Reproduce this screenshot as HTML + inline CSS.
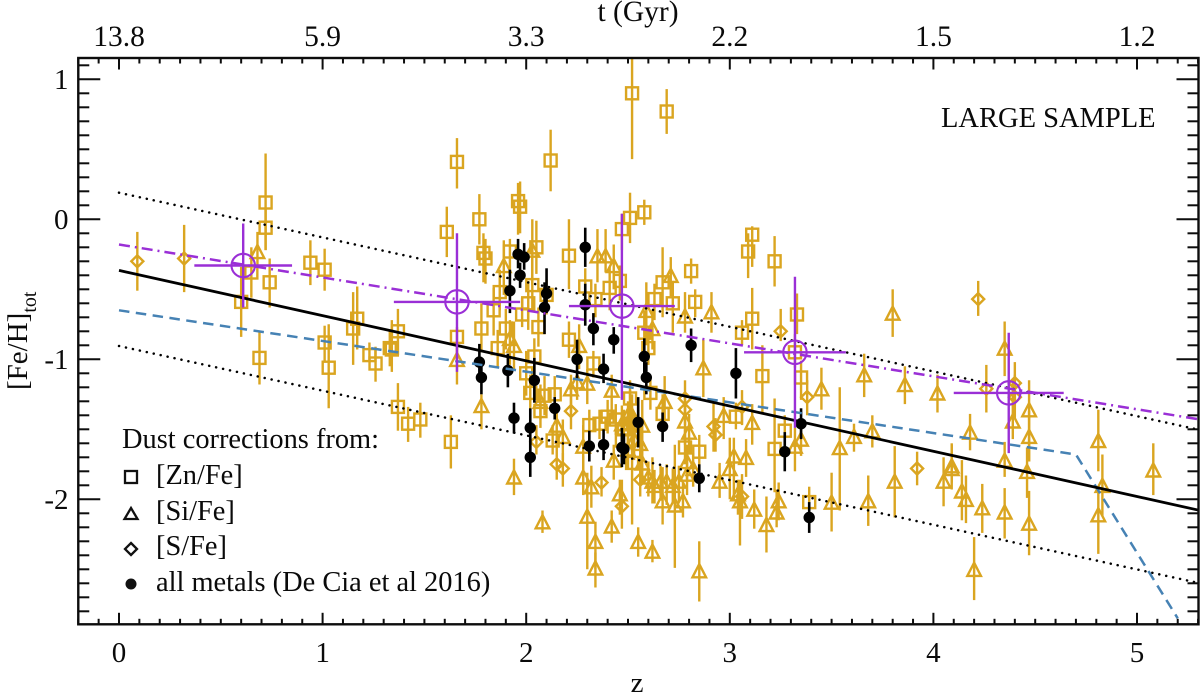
<!DOCTYPE html>
<html lang="en">
<head>
<meta charset="utf-8">
<title>[Fe/H] total versus redshift</title>
<style>
html,body{margin:0;padding:0;background:#fff;width:1200px;height:695px;overflow:hidden}
svg{display:block}
text{font-family:"Liberation Serif","Times New Roman",serif;fill:#0a0a0a}
</style>
</head>
<body>
<svg id="chart" xmlns="http://www.w3.org/2000/svg" width="1200" height="695" viewBox="0 0 1200 695">
  <defs><clipPath id="plot-clip"><rect x="78" y="58" width="1121" height="566"/></clipPath></defs>
  <g id="gold-layer" clip-path="url(#plot-clip)"></g>
  <g id="black-layer" clip-path="url(#plot-clip)"></g>
  <g id="line-layer" clip-path="url(#plot-clip)"></g>
  <g id="mean-layer" clip-path="url(#plot-clip)"></g>
  <g id="axis-layer"></g>

  <text x="638" y="21" font-size="29.5" text-anchor="middle">t (Gyr)</text>
  <text x="637" y="692" font-size="29" text-anchor="middle">z</text>
  <text transform="translate(27,390) rotate(-90)" font-size="29">[Fe/H]<tspan font-size="20" dy="9">tot</tspan></text>
  <text x="941" y="127" font-size="28.5">LARGE SAMPLE</text>

  <g>
    <text x="122" y="448" font-size="28.4">Dust corrections from:</text>
    <rect x="125" y="471" width="12" height="12" fill="none" stroke="#111" stroke-width="2.3"/>
    <text x="156" y="484" font-size="28.4">[Zn/Fe]</text>
    <polygon points="131,508 137.5,519 124.5,519" fill="none" stroke="#111" stroke-width="2.3"/>
    <text x="156" y="520" font-size="28.4">[Si/Fe]</text>
    <polygon points="131,543 137,549 131,555 125,549" fill="none" stroke="#111" stroke-width="2.3"/>
    <text x="156" y="555" font-size="28.4">[S/Fe]</text>
    <circle cx="131" cy="584" r="5.5" fill="#111"/>
    <text x="156" y="591" font-size="28.4">all metals (De Cia et al 2016)</text>
  </g>
</svg>
<script>
// Each point row: [z, [Fe/H], error up, error down]
const zincPoints = [
[.72,.12,.35,.34],[.72,-.06,.13,.16],[.60,-.59,.25,.25],[.65,-.38,.18,.18],[.74,-.45,.17,.18],[.94,-.31,.16,.16],[1.01,-.36,.15,.15],[1.17,-.71,.23,.22],
[1.15,-.78,.26,.26],[1.37,-.80,.16,.17],[1.01,-.88,.12,.13],[1.33,-.92,.13,.13],[1.23,-.97,.09,.05],[1.26,-1.03,.12,.13],[1.34,-.93,.21,.16],[1.66,.41,.17,.19],
[1.61,-.09,.18,.18],[1.66,-.84,.07,.18],[.69,-.99,.19,.19],[1.03,-1.06,.31,.29],[1.37,-1.34,.17,.17],[1.42,-1.46,.12,.13],[1.48,-1.43,.12,.13],[1.63,-1.59,.19,.19],
[2.12,.42,.22,.22],[2.52,.90,.30,.47],[2.69,.77,.16,.16],[1.77,0,.18,.18],[1.96,.13,.13,.24],[1.97,.09,.18,.19],[1.79,-.24,.14,.21],[1.80,-.28,.14,.18],
[1.92,-.23,.09,.13],[2.05,-.20,.19,.19],[2.21,-.26,.26,.24],[2.47,-.07,.11,.15],[2.51,.01,.18,.18],[2.58,.05,.09,.09],[2.81,-.37,.09,.09],[2.83,-.59,.09,.11],
[2.67,-.45,.25,.25],[2.63,-.57,.11,.15],[2.72,-.60,.16,.21],[2.46,-.44,.11,.14],[2.41,-.49,.15,.16],[2.29,-.48,.13,.14],[2.34,-.57,.11,.13],[1.87,-.52,.16,.13],
[2.03,-.47,.21,.18],[2.10,-.54,.11,.14],[2.01,-.60,.16,.19],[1.84,-.65,.16,.18],[1.98,-.68,.12,.09],[2.06,-.77,.14,.14],[1.78,-.78,.18,.17],[1.86,-.92,.13,.14],
[1.90,-.78,.14,.15],[2.04,-.98,.13,.11],[2.21,-.86,.13,.13],[2.58,-.81,.16,.16],[2.60,-.92,.13,.12],[2.33,-1.03,.09,.10],[2.00,-1.10,.16,.16],[2.02,-1.24,.13,.12],
[2.09,-1.26,.14,.14],[2.14,-1.25,.13,.12],[2.07,-1.37,.11,.12],[2.13,-1.58,.11,.10],[2.31,-1.47,.11,.11],[2.36,-1.46,.10,.11],[2.40,-1.41,.12,.12],[2.44,-1.43,.11,.11],
[2.48,-1.50,.14,.18],[2.51,-1.28,.13,.16],[2.47,-1.58,.11,.14],[2.52,-1.74,.16,.44],[2.67,-1.39,.14,.11],[2.78,-1.63,.13,.12],[2.85,-1.66,.12,.13],[2.61,-1.24,.11,.12],
[3.11,-.11,.06,.23],[3.09,-.23,.13,.19],[3.22,-.30,.18,.18],[3.11,-.71,.22,.22],[3.06,-.81,.09,.09],[3.33,-.68,.15,.14],[3.16,-1.12,.22,.26],[3.35,-1.13,.12,.16],
[3.03,-1.41,.10,.09],[3.27,-1.51,.11,.14],[3.22,-1.64,.36,.31],[3.39,-2.02,.11,.08],[3.32,-.95,.13,.11]
];
const siliconPoints = [
[.68,-.24,.15,.10],[1.89,-.34,.19,.20],[2.03,-.23,.23,.24],[2.35,-.27,.20,.18],[2.39,-.27,.20,.11],[2.43,-.34,.16,.16],[2.71,-.41,.14,.14],[2.78,-.70,.18,.11],
[2.91,-.67,.15,.14],[2.59,-.66,.21,.24],[2.62,-.79,.14,.14],[1.66,-1.01,.11,.17],[1.94,-.91,.18,.17],[1.92,-.86,.14,.18],[2.26,-.91,.16,.16],[1.78,-1.34,.09,.16],
[1.94,-1.85,.14,.12],[2.08,-2.17,.09,.07],[2.07,-1.31,.13,.12],[2.15,-1.48,.12,.13],[2.18,-1.56,.13,.16],[2.22,-1.22,.11,.16],[2.25,-1.17,.13,.12],[2.30,-1.18,.11,.14],
[2.28,-1.63,.16,.16],[2.28,-1.85,.16,.12],[2.32,-1.92,.16,.14],[2.30,-2.13,.32,.37],[2.34,-2.31,.15,.19],[2.34,-2.50,.12,.13],[2.42,-2.20,.12,.11],[2.43,-1.73,.12,.13],
[2.46,-1.97,.11,.14],[2.55,-2.31,.11,.10],[2.62,-2.38,.09,.07],[2.42,-1.23,.12,.20],[2.85,-2.52,.22,.21],[2.73,-2.05,.44,.44],[2.77,-2.02,.14,.11],[2.67,-2.02,.25,.16],
[2.62,-1.88,.18,.15],[2.66,-1.88,.12,.13],[2.69,-1.88,.13,.16],[2.57,-1.75,.11,.14],[2.79,-1.83,.14,.14],[2.79,-1.74,.13,.12],[2.80,-1.53,.14,.15],[2.78,-1.45,.13,.16],
[2.87,-1.07,.21,.20],[2.68,-1.31,.19,.12],[2.57,-1.48,.19,.17],[2.50,-1.46,.16,.12],[2.47,-1.47,.14,.14],[2.51,-1.38,.16,.12],[2.52,-1.43,.18,.18],[2.95,-1.88,.14,.11],
[3.11,-1.46,.14,.15],[3.02,-1.70,.14,.31],[3.00,-1.79,.23,.21],[3.08,-1.71,.14,.13],[3.04,-1.97,.11,.14],[3.05,-2.02,.16,.31],[3.12,-2.08,.15,.13],[3.18,-2.19,.21,.19],
[3.24,-2.02,.14,.13],[3.23,-2.10,.17,.10],[3.32,-1.63,.14,.17],[3.35,-1.58,.14,.11],[3.50,-2.03,.22,.20],[3.54,-1.64,.44,.44],[3.61,-1.56,.10,.10],[3.70,-1.52,.12,.11],
[3.68,-2.02,.19,.17],[3.81,-1.88,.26,.25],[4.05,-1.88,.18,.17],[2.97,-1.41,.14,.16],[3.45,-1.22,.16,.14],[3.66,-1.12,.16,.15],[3.80,-.68,.18,.16],[3.86,-1.19,.14,.13],
[4.02,-1.25,.14,.13],[4.35,-.93,.20,.19],[4.18,-1.53,.14,.12],[4.39,-1.45,.31,.12],[4.47,-1.37,.22,.36],[4.47,-1.56,.19,.17],[4.35,-1.73,.14,.11],[4.46,-1.81,.18,.18],
[4.09,-1.77,.17,.11],[4.09,-1.79,.18,.14],[4.14,-1.95,.23,.20],[4.16,-2.01,.18,.16],[4.24,-2.07,.18,.17],[4.35,-2.10,.18,.18],[4.47,-2.18,.24,.22],[4.20,-2.51,.24,.21],
[4.81,-1.59,.23,.21],[4.83,-1.91,.23,.21],[4.81,-2.12,.21,.27],[5.08,-1.80,.20,.17],
[2.60,-1.85,.12,.13],[2.63,-1.91,.12,.12],[2.72,-1.91,.13,.12],[2.75,-1.88,.12,.14],[2.82,-1.79,.12,.12],[2.53,-1.58,.13,.14],[2.50,-1.65,.12,.13],[2.56,-1.61,.14,.13]
];
const sulfurPoints = [
[.09,-.30,.21,.21],[.32,-.28,.24,.24],[4.22,-.57,.13,.12],[4.26,-1.21,.17,.17],[4.40,-1.17,.15,.16],[4.40,-1.27,.16,.16],[3.25,-.80,.16,.07],[3.38,-1.27,.12,.13],
[3.06,-1.34,.12,.13],[2.92,-1.48,.17,.18],[2.93,-1.54,.12,.12],[3.92,-1.78,.12,.12],[3.06,-1.98,.16,.16],[2.22,-1.37,.16,.13],[2.05,-1.59,.12,.09],[2.15,-1.75,.14,.11],
[2.18,-1.78,.11,.13],[2.37,-1.88,.11,.10],[2.47,-2.05,.19,.16],[2.56,-1.86,.14,.12],[2.78,-1.28,.13,.12],[2.78,-1.36,.11,.11]
];
const allMetalsPoints = [
[1.96,-.25,.11,.10],[1.99,-.27,.10,.09],[1.97,-.40,.09,.09],[1.92,-.51,.15,.16],[2.10,-.53,.18,.14],[2.09,-.63,.18,.19],[2.29,-.20,.14,.14],[2.29,-.61,.15,.15],
[2.33,-.78,.11,.12],[2.43,-.86,.09,.10],[2.81,-.90,.12,.12],[2.58,-.98,.13,.14],[1.77,-1.02,.13,.13],[1.78,-1.13,.11,.12],[1.91,-1.08,.12,.12],[2.04,-1.15,.16,.16],
[1.94,-1.42,.11,.11],[2.02,-1.49,.14,.18],[2.02,-1.70,.14,.14],[2.14,-1.35,.08,.08],[2.25,-1.00,.14,.14],[2.38,-1.07,.11,.10],[2.59,-1.13,.11,.12],[2.55,-1.45,.18,.18],
[2.67,-1.48,.10,.11],[2.31,-1.62,.11,.11],[2.38,-1.61,.11,.11],[2.47,-1.63,.14,.14],[2.48,-1.64,.11,.11],[2.85,-1.85,.10,.10],[3.03,-1.10,.18,.18],[3.35,-1.46,.11,.11],
[3.27,-1.66,.14,.14],[3.39,-2.13,.11,.11]
];
// Binned means: [z, [Fe/H], z error, error up, error down]
const binnedMeans = [[.61,-.33,.24,.30,.30],[1.66,-.59,.31,.49,.50],[2.47,-.62,.26,.66,.67],[3.32,-.95,.25,.54,.54],[4.37,-1.24,.27,.43,.43]];
// Trend lines
const bestFitZ = [0,5.31];
const bestFitFe = [-.365,-2.08];
const upperBoundZ = [0,5.31];
const upperBoundFe = [.19,-1.505];
const lowerBoundZ = [0,5.31];
const lowerBoundFe = [-.905,-2.6];
const meanFitZ = [0,5.31];
const meanFitFe = [-.18,-1.43];
const modelZ = [0,4.7,5.2];
const modelFe = [-.65,-1.68,-2.85];
// Axis labels
const bottomTicks = ['0','1','2','3','4','5'];
const topTicks = ['13.8','5.9','3.3','2.2','1.5','1.2'];
const leftTicks = ['1','0','-1','-2'];
const leftTickValues = [1,0,-1,-2];

const NS = 'http://www.w3.org/2000/svg';
const X = z => 119 + 203.6 * z;
const Y = v => 219.3 - 140 * v;
const GOLD = '#DAA520', INK = '#0d0d0d', PURPLE = '#9A2FD6', BLUE = '#4682B4';
const plotLeft = X(-0.2), plotRight = 1198.5, plotTop = 58, plotBottom = 624.3;

function make(tag, parent, attrs) {
  const el = document.createElementNS(NS, tag);
  for (const k in attrs) el.setAttribute(k, attrs[k]);
  parent.appendChild(el);
  return el;
}
const goldLayer = document.getElementById('gold-layer');
const blackLayer = document.getElementById('black-layer');
const lineLayer = document.getElementById('line-layer');
const meanLayer = document.getElementById('mean-layer');
const axisLayer = document.getElementById('axis-layer');

function errorBar(parent, p, color, width) {
  const el = make('line', parent, {x1: X(p[0]), x2: X(p[0]), y1: Y(p[1] + p[2]), y2: Y(p[1] - p[3]), stroke: color, 'stroke-width': width});
  
  
}

for (const p of zincPoints) {
  errorBar(goldLayer, p, GOLD, 2.4);
  const el = make('rect', goldLayer, {x: X(p[0]) - 6, y: Y(p[1]) - 6, width: 12, height: 12, fill: 'none', stroke: GOLD, 'stroke-width': 2.4});
  
  
}
for (const p of siliconPoints) {
  errorBar(goldLayer, p, GOLD, 2.4);
  const cx = X(p[0]), cy = Y(p[1]);
  const el = make('polygon', goldLayer, {points: `${cx},${cy - 8} ${cx + 6.8},${cy + 5.2} ${cx - 6.8},${cy + 5.2}`, fill: 'none', stroke: GOLD, 'stroke-width': 2.4});
  
  
}
for (const p of sulfurPoints) {
  errorBar(goldLayer, p, GOLD, 2.4);
  const cx = X(p[0]), cy = Y(p[1]);
  const el = make('polygon', goldLayer, {points: `${cx},${cy - 6} ${cx + 6},${cy} ${cx},${cy + 6} ${cx - 6},${cy}`, fill: 'none', stroke: GOLD, 'stroke-width': 2.4});
  
  
}
for (const p of allMetalsPoints) {
  errorBar(blackLayer, p, '#000', 2.6);
  const el = make('circle', blackLayer, {cx: X(p[0]), cy: Y(p[1]), r: 5.7, fill: '#000'});
  
  
}

function trend(zs, fes, color, width, dash, cap) {
  const el = make('polyline', lineLayer, {points: zs.map((z, i) => X(z) + ',' + Y(fes[i])).join(' '), fill: 'none', stroke: color, 'stroke-width': width});
  if (dash) el.setAttribute('stroke-dasharray', dash);
  if (cap) el.setAttribute('stroke-linecap', cap);
  return el;
}
const upperLine = trend(upperBoundZ, upperBoundFe, '#000', 2.5, '0.1 7', 'round');


const lowerLine = trend(lowerBoundZ, lowerBoundFe, '#000', 2.5, '0.1 7', 'round');


const modelLine = trend(modelZ, modelFe, BLUE, 2.5, '10.5 6.5');


const meanLine = trend(meanFitZ, meanFitFe, PURPLE, 2.5, '11 5 2 5');


const fitLine = trend(bestFitZ, bestFitFe, '#000', 2.8);



for (const m of binnedMeans) {
  const cx = X(m[0]), cy = Y(m[1]);
  const h = make('line', meanLayer, {x1: X(m[0] - m[2]), x2: X(m[0] + m[2]), y1: cy, y2: cy, stroke: PURPLE, 'stroke-width': 2.4});
  
  
  const v = make('line', meanLayer, {x1: cx, x2: cx, y1: Y(m[1] + m[3]), y2: Y(m[1] - m[4]), stroke: PURPLE, 'stroke-width': 2.4});
  
  
  const c = make('circle', meanLayer, {cx: cx, cy: cy, r: 11.7, fill: 'none', stroke: PURPLE, 'stroke-width': 2.1});
  
  
}

// Axes
const frame = make('rect', axisLayer, {x: plotLeft, y: plotTop, width: plotRight - plotLeft, height: plotBottom - plotTop, fill: 'none', stroke: INK, 'stroke-width': 2.4});



for (let i = -2; i <= 53; i++) {
  const z = i / 10, major = i % 10 === 0, x = X(z);
  const b = make('line', axisLayer, {x1: x, x2: x, y1: plotBottom, y2: plotBottom - (major ? 11.5 : 5.5), stroke: INK, 'stroke-width': 2});
  
  
  const t = make('line', axisLayer, {x1: x, x2: x, y1: plotTop, y2: plotTop + (major ? 11.5 : 5.5), stroke: INK, 'stroke-width': 2});
  
  
}
for (let i = -28; i <= 11; i++) {
  const v = i / 10, major = i % 10 === 0, y = Y(v), len = major ? 22 : 11;
  const l = make('line', axisLayer, {x1: plotLeft, x2: plotLeft + len, y1: y, y2: y, stroke: INK, 'stroke-width': 2});
  
  
  const r = make('line', axisLayer, {x1: plotRight, x2: plotRight - len, y1: y, y2: y, stroke: INK, 'stroke-width': 2});
  
  
}
bottomTicks.forEach((label, i) => {
  const el = make('text', axisLayer, {x: X(i), y: 662, 'font-size': 29, 'text-anchor': 'middle'});
  el.textContent = label;
  
  
});
topTicks.forEach((label, i) => {
  const el = make('text', axisLayer, {x: X(i), y: 46, 'font-size': 29.5, 'text-anchor': 'middle'});
  el.textContent = label;
  
  
});
leftTicks.forEach((label, i) => {
  const el = make('text', axisLayer, {x: 68.5, y: Y(leftTickValues[i]) + 9.5, 'font-size': 29, 'text-anchor': 'end'});
  el.textContent = label;
  
  
});
</script>
</body>
</html>
